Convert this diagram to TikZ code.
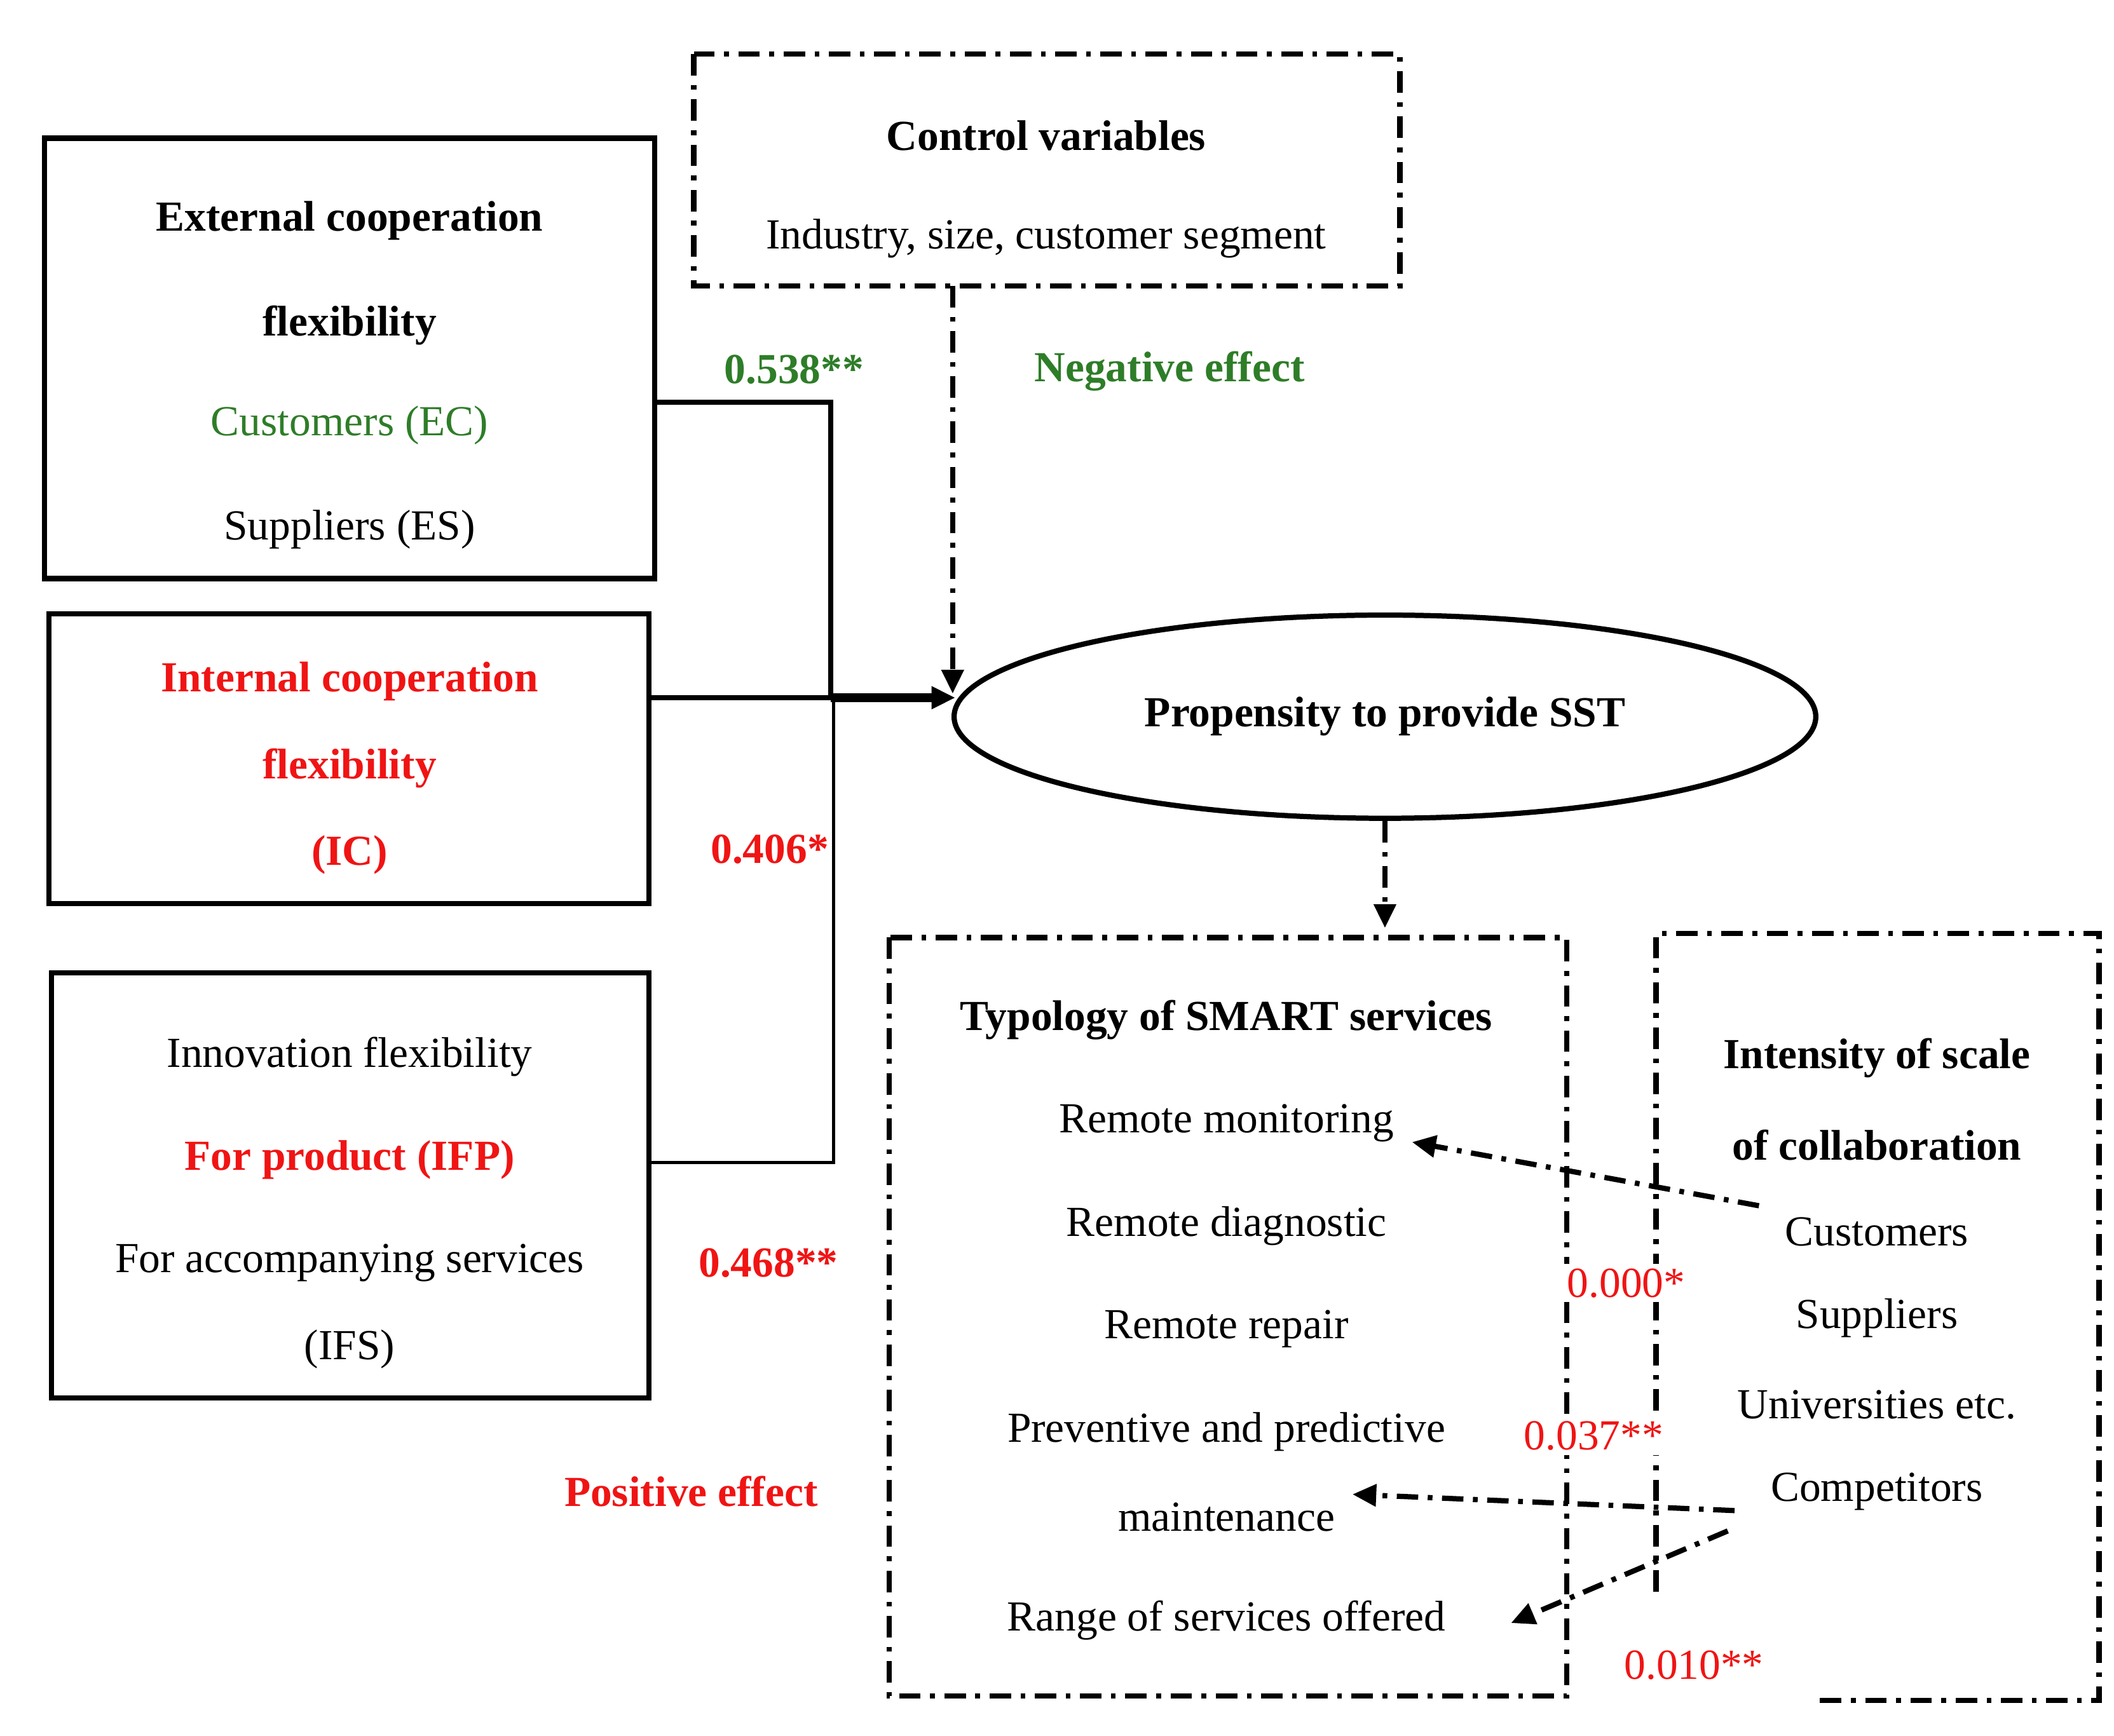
\documentclass[tikz,border=0pt]{standalone}
\usepackage{fontspec}
\setmainfont{Liberation Serif}
\usetikzlibrary{arrows.meta,shapes.geometric}
\definecolor{grn}{RGB}{46,125,40}
\definecolor{rd}{RGB}{240,20,20}
\begin{document}
\begin{tikzpicture}[x=0.02cm,y=-0.02cm,
  box/.style={draw,line width=2.2pt},
  dd/.style={line width=2.2pt,dash pattern=on 9pt off 4pt on 2pt off 4pt},
  ar/.style={-{Triangle[length=10pt,width=9pt]}},
  t/.style={font=\fontsize{18}{20}\selectfont,inner sep=0pt},
  b/.style={t,font=\fontsize{18}{20}\selectfont\bfseries}]
\useasboundingbox (0,0) rectangle (1560,1281);
\draw[box] (33,102) rectangle (483,427);
\draw[box] (36,453) rectangle (479,667);
\draw[box] (38,718) rectangle (479,1032);
\node[b] at (258,163) {External cooperation};
\node[b] at (258,240) {flexibility};
\node[t,text=grn] at (258,314) {Customers (EC)};
\node[t] at (258,391) {Suppliers (ES)};
\node[b,text=rd] at (258,503) {Internal cooperation};
\node[b,text=rd] at (258,567) {flexibility};
\node[b,text=rd] at (258,631) {(IC)};
\node[t] at (258,780) {Innovation flexibility};
\node[b,text=rd] at (258,856) {For product (IFP)};
\node[t] at (258,932) {For accompanying services};
\node[t] at (258,996) {(IFS)};
\draw[dd] (512,40) rectangle (1033,211);
\node[b] at (772,100) {Control variables};
\node[t] at (772,176) {Industry, size, customer segment};
\node[draw,line width=2.2pt,ellipse,minimum width=12.72cm,minimum height=3cm,inner sep=0pt,b] (e) at (1022,529) {Propensity to provide SST};
\coordinate (p) at (705,515);
\draw[line width=2pt] (483,297) -- (613,297) -- (613,515);
\draw[line width=1.4pt] (479,858) -- (615,858) -- (615,515);
\draw[line width=2pt] (479,515) -- (613,515);
\draw[line width=3.5pt,ar] (613,515) -- (p);
\draw[dd,ar] (703,211) -- (703,512);
\draw[dd,ar] (e.south) -- (1022,685);
\node[b,text=grn] at (586,273) {0.538**};
\node[b,text=rd] at (568,627) {0.406*};
\node[b,text=rd] at (567,932) {0.468**};
\node[b,text=grn] at (863,274) {Negative effect};
\node[b,text=rd] at (510,1101) {Positive effect};
\draw[dd] (656,692) rectangle (1156,1252);
\draw[dd] (1343,1255) -- (1549,1255) -- (1549,689) -- (1222,689) -- (1222,1180);
\node[b] at (905,753) {Typology of SMART services};
\node[t] at (905,829) {Remote monitoring};
\node[t] at (905,905) {Remote diagnostic};
\node[t] at (905,981) {Remote repair};
\node[t] at (905,1057) {Preventive and predictive};
\node[t] at (905,1120) {maintenance};
\node[t] at (905,1196) {Range of services offered};
\node[b] at (1385,781) {Intensity of scale};
\node[b] at (1385,845) {of collaboration};
\node[t] at (1385,909) {Customers};
\node[t] at (1385,973) {Suppliers};
\node[t] at (1385,1037) {Universities etc.};
\node[t] at (1385,1101) {Competitors};
\node[t,text=rd,fill=white,inner sep=2pt] at (1200,947) {0.000*};
\node[t,text=rd,fill=white,inner sep=2pt] at (1176,1060) {0.037**};
\node[t,text=rd] at (1250,1229) {0.010**};
\draw[dd,ar] (1298,890) -- (1042,843);
\draw[dd,ar] (1280,1115) -- (998,1103);
\draw[dd,ar] (1275,1130) -- (1115,1198);
\end{tikzpicture}
\end{document}
